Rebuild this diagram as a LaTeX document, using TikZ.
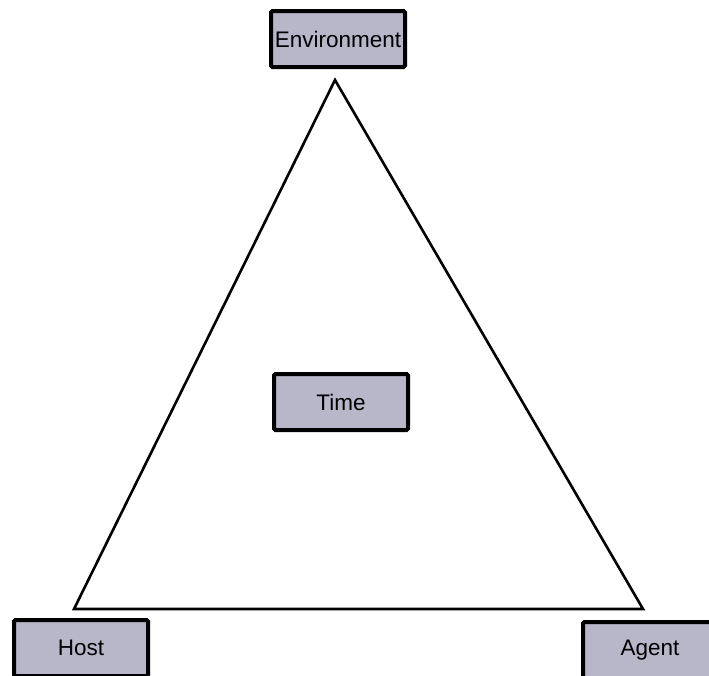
\documentclass[tikz,border=0pt]{standalone}
\usepackage{fontspec}
\setmainfont{Liberation Sans}
\definecolor{boxfill}{HTML}{B8B6C9}
\begin{document}
\begin{tikzpicture}[x=1pt,y=-1pt,
  lbox/.style={draw=black,line width=4pt,fill=boxfill,rounded corners=1.5pt,
    minimum width=134pt,minimum height=56pt,inner sep=0pt,
    font=\fontsize{22.5}{26}\selectfont}]
\useasboundingbox (0,0) rectangle (709,675);
\clip (0,0) rectangle (709,675);
\coordinate (apex) at (335,80);
\coordinate (bl) at (74,609);
\coordinate (br) at (643,609);
\draw[line width=2.6pt,line join=miter] (apex) -- (bl) -- (br) -- cycle;
\node[lbox] (env) at (338,39) {Environment};
\node[lbox] (time) at (341,402) {Time};
\node[lbox] (host) at (81,648) {Host};
\node[lbox] (agent) at (650,650) {Agent};
\end{tikzpicture}
\end{document}
